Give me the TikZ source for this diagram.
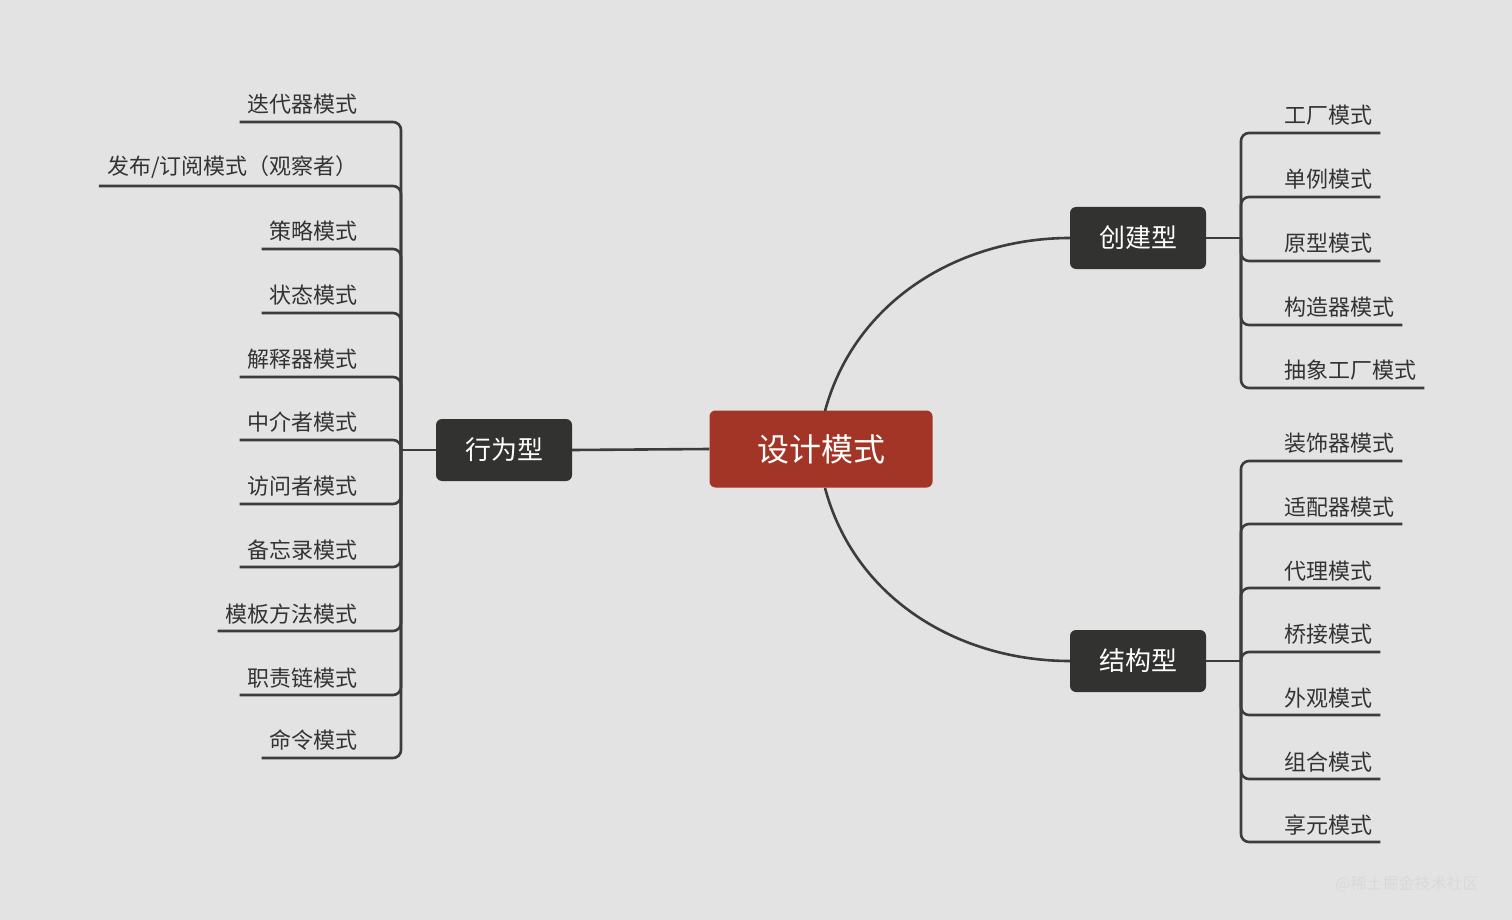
\documentclass[tikz,border=0pt]{standalone}
\usepackage{fontspec}
\setmainfont{Noto Sans CJK SC}
\usetikzlibrary{positioning}
\definecolor{bgcol}{HTML}{E3E3E3}
\definecolor{rootcol}{HTML}{A23526}
\definecolor{hubcol}{HTML}{323230}
\definecolor{linecol}{HTML}{3C3C3C}
\definecolor{txtcol}{HTML}{333333}

\begin{document}
\begin{tikzpicture}[
    x=1pt, y=-1pt,
    link/.style={draw=linecol, line width=2.6pt},
    root/.style={fill=rootcol, rounded corners=6pt, text=white, minimum width=223pt, minimum height=77pt, font=\fontsize{32}{36}\selectfont},
    hub/.style={fill=hubcol, rounded corners=6pt, text=white, minimum width=136pt, minimum height=62pt, font=\fontsize{26}{30}\selectfont},
    leaf/.style={text=txtcol, inner xsep=8pt, inner ysep=7pt, font=\fontsize{22}{26}\selectfont}
]
    \fill[bgcol] (0,0) rectangle (1512,920);
    \useasboundingbox (0,0) rectangle (1512,920);

    % === Root and hubs ===
    \node[root] (design) at (821,449) {设计模式};
    \node[hub] (behav) at (504,450) {行为型};
    \node[hub] (create) at (1138,238) {创建型};
    \node[hub] (struct) at (1138,661) {结构型};

    \draw[link] (design.west) -- (behav.east);
    \draw[link] (825,411) .. controls (855,300) and (960,238) .. (create.west);
    \draw[link] (825,488) .. controls (855,600) and (960,661) .. (struct.west);

    % === Behavioural patterns ===
    \coordinate (bL) at (401,450);
    \draw[link] (behav.west) -- (bL);
    \foreach \name/\y [count=\i] in {迭代器模式/122, {发布/订阅模式（观察者）}/186, 策略模式/249, 状态模式/313,
        解释器模式/377, 中介者模式/440, 访问者模式/504, 备忘录模式/567, 模板方法模式/631,
        职责链模式/695, 命令模式/758} {
        \node[leaf, anchor=south east] (b\i) at (366,\y) {\name};
        \draw[link, rounded corners=8pt] (bL) |- (b\i.south west);
    }

    % === Creational patterns ===
    \coordinate (cR) at (1241,238);
    \draw[link] (create.east) -- (cR);
    \foreach \name/\y [count=\i] in {工厂模式/133, 单例模式/197, 原型模式/261, 构造器模式/325, 抽象工厂模式/388} {
        \node[leaf, anchor=south west] (c\i) at (1276,\y) {\name};
        \draw[link, rounded corners=8pt] (cR) |- (c\i.south east);
    }

    % === Structural patterns ===
    \coordinate (sR) at (1241,661);
    \draw[link] (struct.east) -- (sR);
    \foreach \name/\y [count=\i] in {装饰器模式/461, 适配器模式/524, 代理模式/588, 桥接模式/652,
        外观模式/715, 组合模式/779, 享元模式/842} {
        \node[leaf, anchor=south west] (s\i) at (1276,\y) {\name};
        \draw[link, rounded corners=8pt] (sR) |- (s\i.south east);
    }

    \node[text=white!70!gray, font=\fontsize{16}{18}\selectfont] (mark) at (1407,884) {@稀土掘金技术社区};
\end{tikzpicture}
\end{document}
